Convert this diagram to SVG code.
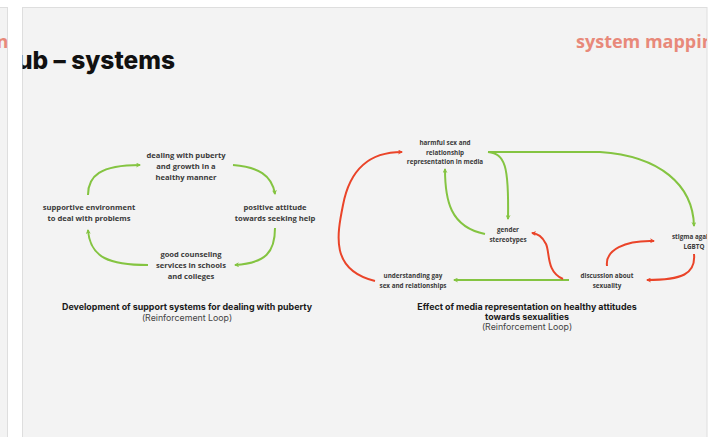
<svg xmlns="http://www.w3.org/2000/svg" width="720" height="437" viewBox="0 0 720 437">
  <defs>
    <style>
      .panel { fill: #f3f3f3; stroke: #dedede; stroke-width: 1; }
      .node { font-family: "Open Sans", "Liberation Sans", sans-serif; font-weight: bold; fill: #3a3a3a; text-anchor: middle; }
      .big { font-size: 7.6px; }
      .small { font-size: 6.3px; }
      .cap { font-family: Inter, "Liberation Sans", sans-serif; font-size: 8.9px; fill: #1a1a1a; text-anchor: middle; }
      .capb { font-weight: bold; }
      .capr { font-weight: normal; fill: #444; font-size: 8.8px; }
      .heading { font-family: Inter, "Liberation Sans", sans-serif; font-weight: 800; }
      .salmon { fill: #e8897a; font-family: "Open Sans", "Liberation Sans", sans-serif; font-weight: bold; font-size: 18px; }
      .g { fill: none; stroke: #84c441; stroke-width: 2; marker-end: url(#ag); }
      .r { fill: none; stroke: #ea4429; stroke-width: 2; marker-end: url(#ar); }
    </style>
    <marker id="ag" viewBox="0 0 10 10" refX="8" refY="5" markerWidth="5" markerHeight="5" orient="auto" markerUnits="userSpaceOnUse">
      <path d="M0,0 L10,5 L0,10 L3,5 z" fill="#84c441"/>
    </marker>
    <marker id="ar" viewBox="0 0 10 10" refX="8" refY="5" markerWidth="5" markerHeight="5" orient="auto" markerUnits="userSpaceOnUse">
      <path d="M0,0 L10,5 L0,10 L3,5 z" fill="#ea4429"/>
    </marker>
    <clipPath id="leftClip"><rect x="0" y="7" width="7.5" height="430"/></clipPath>
    <clipPath id="mainClip"><rect x="22.5" y="7" width="684.5" height="430"/></clipPath>
  </defs>

  <rect width="720" height="437" fill="#ffffff"/>

  <!-- neighbouring slide edge -->
  <rect class="panel" x="-10" y="7.5" width="17.5" height="440"/>
  <g clip-path="url(#leftClip)">
    <text class="salmon" x="-3.5" y="48">n</text>
  </g>

  <!-- main slide -->
  <rect class="panel" x="22.5" y="7.5" width="684.5" height="440"/>

  <g clip-path="url(#mainClip)">
    <text class="heading" x="175" y="69" font-size="24.5" text-anchor="end" fill="#111">sub – systems</text>
    <text class="salmon" x="576" y="48">system mapping</text>

    <!-- connectors -->
    <g id="connectors">
      <!-- left loop -->
      <path class="g" d="M88,195 C88,176 100,165 140,165"/>
      <path class="g" d="M233,165 C258,167 272,175 275,194"/>
      <path class="g" d="M275,228 C275,252 266,263 235,265"/>
      <path class="g" d="M148,265 C110,265 90,258 88,230"/>

      <!-- right loop -->
      <path class="g" d="M488,152 L600,152 C660,156 693,185 694,226"/>
      <path class="g" d="M488,152 C505,154 509,165 508,219"/>
      <path class="g" d="M485,234 C450,227 445,200 445,169"/>
      <path class="r" d="M375,281 C330,270 337,235 343,205 C350,168 370,152 402,152"/>
      <path class="g" d="M569,280 L454,280"/>
      <path class="r" d="M563,279 C546,272 550,252 546,244 C542,236 538,234 532,233"/>
      <path class="r" d="M607,266 C605,250 625,240 654,241"/>
      <path class="r" d="M694,254 C696,274 682,280 647,280"/>
    </g>

    <!-- left loop nodes -->
    <g id="node-dealing">
      <text class="node big" x="186" y="158">dealing with puberty</text>
      <text class="node big" x="186" y="169">and growth in a</text>
      <text class="node big" x="186" y="180">healthy manner</text>
    </g>
    <g id="node-supportive">
      <text class="node big" x="89" y="210">supportive environment</text>
      <text class="node big" x="89" y="221">to deal with problems</text>
    </g>
    <g id="node-positive">
      <text class="node big" x="275" y="210">positive attitude</text>
      <text class="node big" x="275" y="221">towards seeking help</text>
    </g>
    <g id="node-counseling">
      <text class="node big" x="191" y="257">good counseling</text>
      <text class="node big" x="191" y="268">services in schools</text>
      <text class="node big" x="191" y="279">and colleges</text>
    </g>

    <!-- right loop nodes -->
    <g id="node-harmful">
      <text class="node small" x="445" y="145">harmful sex and</text>
      <text class="node small" x="445" y="154.5">relationship</text>
      <text class="node small" x="445" y="164">representation in media</text>
    </g>
    <g id="node-gender">
      <text class="node small" x="508" y="232">gender</text>
      <text class="node small" x="508" y="241.5">stereotypes</text>
    </g>
    <g id="node-understanding">
      <text class="node small" x="413" y="278">understanding gay</text>
      <text class="node small" x="413" y="287.5">sex and relationships</text>
    </g>
    <g id="node-discussion">
      <text class="node small" x="607" y="278">discussion about</text>
      <text class="node small" x="607" y="287.5">sexuality</text>
    </g>
    <g id="node-stigma">
      <text class="node small" x="695" y="239">stigma against</text>
      <text class="node small" x="694" y="248.5">LGBTQ</text>
    </g>

    <!-- captions -->
    <g id="caption-left">
      <text class="cap capb" x="187" y="310">Development of support systems for dealing with puberty</text>
      <text class="cap capr" x="187" y="320.5">(Reinforcement Loop)</text>
    </g>
    <g id="caption-right">
      <text class="cap capb" x="527" y="310">Effect of media representation on healthy attitudes</text>
      <text class="cap capb" x="527" y="319.5">towards sexualities</text>
      <text class="cap capr" x="527" y="330">(Reinforcement Loop)</text>
    </g>
  </g>
</svg>
